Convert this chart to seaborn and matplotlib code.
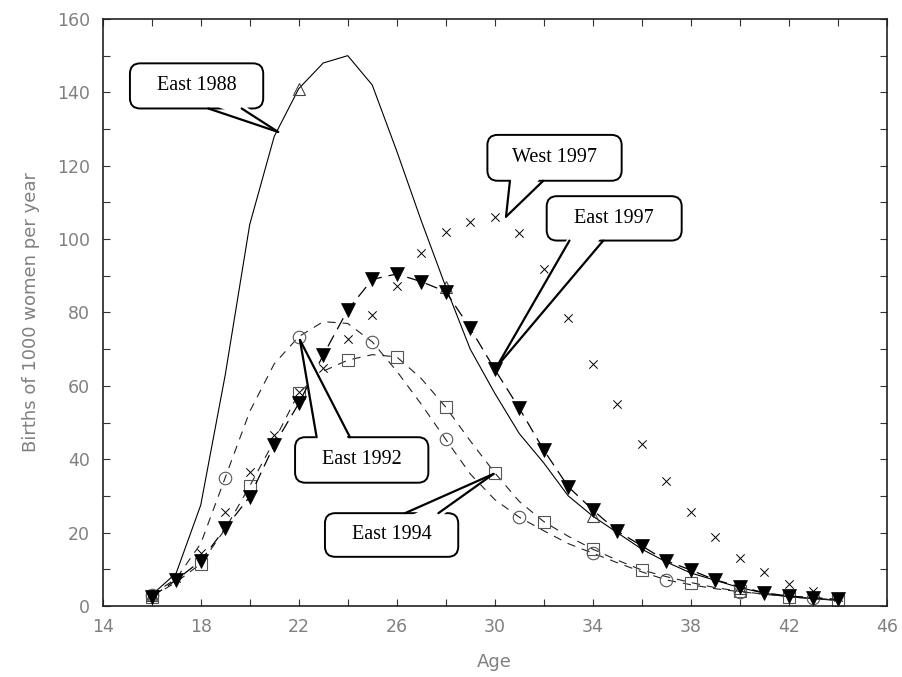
import matplotlib
matplotlib.use('Agg')
import matplotlib.pyplot as plt
from matplotlib.patches import FancyBboxPatch, Polygon
from matplotlib.ticker import MultipleLocator
import seaborn as sns

ages = list(range(16, 45))

east_1988 = [3, 9, 27.5, 63, 104, 128, 141, 148, 150, 142, 124, 105, 87, 70, 58,
             47, 39, 30, 24.5, 20, 15.5, 12, 9, 7, 5, 3.5, 2.5, 2, 1.5]
east_1992 = [3, 7.5, 17, 35, 53, 66, 73.4, 77.5, 77, 72, 64, 55, 45.4, 36, 29,
             24.2, 20.5, 17, 14.4, 11.8, 9.3, 7.1, 5.8, 4.7, 3.9, 3.2, 2.6, 2.1, 1.7]
east_1994 = [2.5, 6.5, 11.5, 21, 32.7, 45, 58.1, 64, 67, 68.5, 67.9, 62, 54.2, 45, 36.3,
             28.5, 23, 19, 15.5, 12.5, 9.8, 8, 6.4, 5, 4, 3.2, 2.5, 2, 1.6]
east_1997 = [2.5, 7.1, 12.3, 21.2, 29.8, 43.9, 55.2, 68.4, 80.7, 89, 90.5, 88.4, 85.7, 75.7, 64.5,
             53.9, 42.5, 32.5, 26.2, 20.4, 16.4, 12.3, 9.8, 7.1, 5.3, 3.6, 2.7, 2.3, 1.8]
west_1997 = [3, 7.5, 14.5, 25.5, 36.6, 46.6, 58.4, 64.8, 72.7, 79.3, 87.2, 96.1, 101.8, 104.7, 105.9,
             101.6, 91.8, 78.4, 66.0, 55.1, 44.2, 34.1, 25.5, 18.9, 13.2, 9.2, 5.9, 4.0, 2.5]

x_ticks = [14, 18, 22, 26, 30, 34, 38, 42, 46]
y_ticks = [0, 20, 40, 60, 80, 100, 120, 140, 160]

sns.set_style('ticks')
plt.rcParams['font.family'] = ['DejaVu Sans']
plt.rcParams['lines.scale_dashes'] = False

fig = plt.figure(figsize=(9.02, 6.77), dpi=100)
ax = fig.add_axes([0.1139, 0.1049, 0.8692, 0.8671])

# East 1988: thin solid line, open triangle every 6 years
sns.lineplot(x=ages, y=east_1988, ax=ax, color='k', lw=0.8, marker='^', markevery=6,
             markersize=9, markerfacecolor='none', markeredgecolor='#444',
             markeredgewidth=0.8, errorbar=None)
# East 1992: dashed, open circle every 3 years
sns.lineplot(x=ages, y=east_1992, ax=ax, color='#222', lw=0.8, dashes=(6, 5), marker='o',
             markevery=3, markersize=9, markerfacecolor='none', markeredgecolor='#555',
             markeredgewidth=0.8, errorbar=None)
# East 1994: dashed, open square every 2 years
sns.lineplot(x=ages, y=east_1994, ax=ax, color='#222', lw=0.8, dashes=(6, 5), marker='s',
             markevery=2, markersize=8, markerfacecolor='none', markeredgecolor='#555',
             markeredgewidth=0.8, errorbar=None)
# East 1997: long dashes, filled down triangles
sns.lineplot(x=ages, y=east_1997, ax=ax, color='k', lw=0.9, dashes=(9, 5), marker='v',
             markersize=10, markerfacecolor='k', markeredgecolor='k',
             markeredgewidth=0.5, errorbar=None)
# West 1997: crosses only
sns.scatterplot(x=ages, y=west_1997, ax=ax, color='k', marker='x', s=36, linewidth=0.7)

ax.set_xlim(14, 46)
ax.set_ylim(0, 160)
ax.set_xticks(x_ticks)
ax.set_yticks(y_ticks)
ax.xaxis.set_minor_locator(MultipleLocator(2))
ax.yaxis.set_minor_locator(MultipleLocator(10))
ax.tick_params(which='both', direction='in', top=True, right=True, length=5,
               width=0.8, color='#333')
ax.tick_params(axis='x', labelsize=12.5, labelcolor='#808080', pad=9)
ax.tick_params(axis='y', labelsize=12.5, labelcolor='#808080', pad=9)
for s in ax.spines.values():
    s.set_linewidth(1.2)
    s.set_color('#222')
ax.set_xlabel('Age', fontsize=13, color='#808080', labelpad=12)
ax.set_ylabel('Births of 1000 women per year', fontsize=13, color='#808080', labelpad=12)

# speech-bubble callouts
bbox_ax = ax.get_position()
px_x = bbox_ax.width * 902 / 32
px_y = bbox_ax.height * 677 / 160
asp = px_x / px_y


def callout(text, box, base, tip, top=False):
    x0, y0, x1, y1 = box
    ax.add_patch(FancyBboxPatch((x0, y0), x1 - x0, y1 - y0,
                                boxstyle='round,pad=0,rounding_size=0.42',
                                mutation_aspect=asp, fc='w', ec='k', lw=1.4,
                                zorder=6, clip_on=False))
    yb = y1 if top else y0
    inside = -1.5 if top else 1.5
    ax.add_patch(Polygon([(base[0], yb + inside), (base[1], yb + inside), tip],
                         closed=True, fc='w', ec='none', zorder=7))
    for bx in base:
        ax.plot([bx, tip[0]], [yb, tip[1]], color='k', lw=1.6, zorder=8,
                solid_capstyle='round')
    ax.text((x0 + x1) / 2, (y0 + y1) / 2, text, ha='center', va='center',
            fontsize=14.5, family='Liberation Serif', color='k', zorder=9)


callout('East 1988', (15.11, 135.6, 20.55, 147.9), (18.31, 19.67), (21.16, 129.2))
callout('West 1997', (29.70, 115.9, 35.18, 128.4), (30.62, 31.98), (30.46, 106.1))
callout('East 1997', (32.12, 99.6, 37.63, 111.7), (33.05, 34.43), (30.08, 65.2))
callout('East 1992', (21.85, 33.6, 27.29, 46.0), (22.73, 24.09), (22.05, 72.5), top=True)
callout('East 1994', (23.07, 13.4, 28.51, 25.3), (26.34, 27.70), (29.95, 36.0), top=True)

fig.savefig('out.png', dpi=100)
